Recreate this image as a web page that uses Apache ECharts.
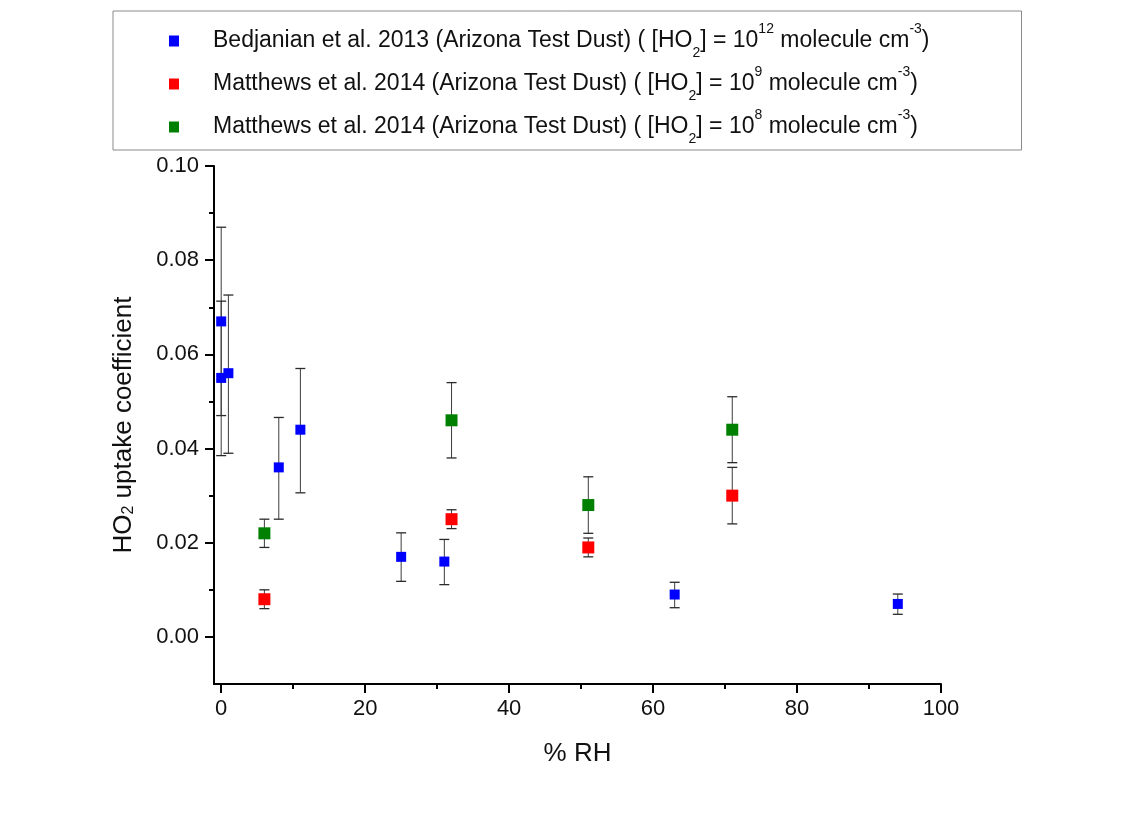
<!DOCTYPE html>
<html>
<head>
<meta charset="utf-8">
<script src="https://cdn.jsdelivr.net/npm/echarts@6/dist/echarts.min.js"></script>
<style>
  html, body { margin: 0; padding: 0; background: #ffffff; }
  #chart { width: 1147px; height: 813px; }
</style>
</head>
<body>
<div id="chart"></div>
<script>
// ---- data ----
const bedRH    = [0, 0, 1, 8, 11, 25, 31, 63, 94];
const bedGamma = [0.067, 0.055, 0.056, 0.036, 0.044, 0.017, 0.016, 0.009, 0.007];
const bedLow   = [0.047, 0.0385, 0.039, 0.025, 0.0306, 0.0118, 0.0111, 0.0062, 0.0048];
const bedHigh  = [0.087, 0.0713, 0.0726, 0.0466, 0.057, 0.0221, 0.0207, 0.0116, 0.0091];

const mat9RH    = [6, 32, 51, 71];
const mat9Gamma = [0.008, 0.025, 0.019, 0.030];
const mat9Low   = [0.006, 0.023, 0.017, 0.024];
const mat9High  = [0.010, 0.027, 0.021, 0.036];

const mat8RH    = [6, 32, 51, 71];
const mat8Gamma = [0.022, 0.046, 0.028, 0.044];
const mat8Low   = [0.019, 0.038, 0.022, 0.037];
const mat8High  = [0.025, 0.054, 0.034, 0.051];

const seriesNames = [
  'Bedjanian et al. 2013 (Arizona Test Dust) ( [HO2] = 10^12 molecule cm^-3)',
  'Matthews et al. 2014 (Arizona Test Dust) ( [HO2] = 10^9 molecule cm^-3)',
  'Matthews et al. 2014 (Arizona Test Dust) ( [HO2] = 10^8 molecule cm^-3)'
];
const legendRich = [
  '{sp| }Bedjanian et al. 2013 (Arizona Test Dust) ( [HO{sub|2}] = 10{sup|12} molecule cm{sup|-3})',
  '{sp| }Matthews et al. 2014 (Arizona Test Dust) ( [HO{sub|2}] = 10{sup|9} molecule cm{sup|-3})',
  '{sp| }Matthews et al. 2014 (Arizona Test Dust) ( [HO{sub|2}] = 10{sup|8} molecule cm{sup|-3})'
];
const xMajorTicks = [0, 20, 40, 60, 80, 100];
const xMinorTicks = [10, 30, 50, 70, 90];
const yMajorTicks = [0, 0.02, 0.04, 0.06, 0.08, 0.10];
const yMinorTicks = [0.01, 0.03, 0.05, 0.07, 0.09];

// ---- helpers ----
function pts(xs, ys) { return xs.map((x, i) => [x, ys[i]]); }
function errs(xs, lo, hi) { return xs.map((x, i) => [x, lo[i], hi[i]]); }

const FONT = '"Liberation Sans", Arial, sans-serif';

function errorSeries(name, data) {
  return {
    type: 'custom',
    name: name,
    xAxisIndex: 0, yAxisIndex: 0,
    z: 1,
    silent: true,
    data: data,
    renderItem: function (params, api) {
      const x = api.value(0);
      const lo = api.coord([x, api.value(1)]);
      const hi = api.coord([x, api.value(2)]);
      const hw = 5;
      const st = { stroke: '#3c3c3c', lineWidth: 1 };
      return {
        type: 'group',
        children: [
          { type: 'line', shape: { x1: lo[0], y1: lo[1], x2: hi[0], y2: hi[1] }, style: st },
          { type: 'line', shape: { x1: hi[0] - hw, y1: hi[1], x2: hi[0] + hw, y2: hi[1] }, style: { stroke: '#2a2a2a', lineWidth: 1.3 } },
          { type: 'line', shape: { x1: lo[0] - hw, y1: lo[1], x2: lo[0] + hw, y2: lo[1] }, style: { stroke: '#2a2a2a', lineWidth: 1.3 } }
        ]
      };
    }
  };
}

const chart = echarts.init(document.getElementById('chart'), null, { renderer: 'canvas' });

const option = {
  backgroundColor: '#ffffff',
  animation: false,
  textStyle: { fontFamily: FONT },
  grid: { left: 214, right: 206, top: 166, bottom: 129, containLabel: false },
  legend: {
    show: true,
    orient: 'vertical',
    left: 113,
    top: 11,
    padding: [11, 92, 4, 56],
    itemGap: 5,
    itemWidth: 10,
    itemHeight: 11,
    icon: 'rect',
    borderColor: '#8a8a8a',
    borderWidth: 1,
    backgroundColor: '#ffffff',
    data: seriesNames,
    formatter: function (name) { return legendRich[seriesNames.indexOf(name)]; },
    textStyle: {
      fontFamily: FONT,
      fontSize: 23,
      color: '#111',
      lineHeight: 38,
      rich: {
        sp: { width: 29, fontSize: 23, lineHeight: 38 },
        sub: { fontSize: 14, lineHeight: 13, verticalAlign: 'bottom', color: '#111', fontFamily: FONT },
        sup: { fontSize: 14, lineHeight: 15, verticalAlign: 'top', color: '#111', fontFamily: FONT }
      }
    }
  },
  xAxis: [
    {
      type: 'value',
      min: -1, max: 100,
      name: '% RH',
      nameLocation: 'middle',
      nameGap: 57,
      nameTextStyle: { fontFamily: FONT, fontSize: 26, color: '#111' },
      axisLine: { show: true, onZero: false, lineStyle: { color: '#000', width: 2 } },
      axisTick: { show: true, inside: false, length: 9, customValues: xMajorTicks, lineStyle: { color: '#000', width: 2 } },
      axisLabel: { show: true, customValues: xMajorTicks, margin: 14, fontFamily: FONT, fontSize: 22, color: '#111',
                   formatter: function (v) { return String(Math.round(v)); } },
      splitLine: { show: false }
    },
    {
      type: 'value',
      min: -1, max: 100,
      position: 'bottom',
      axisLine: { show: false, onZero: false },
      axisTick: { show: true, inside: false, length: 5, customValues: xMinorTicks, lineStyle: { color: '#000', width: 2 } },
      axisLabel: { show: false },
      splitLine: { show: false }
    }
  ],
  yAxis: [
    {
      type: 'value',
      min: -0.01, max: 0.10,
      name: 'HO{sub|2} uptake coefficient',
      nameLocation: 'middle',
      nameGap: 77,
      nameRotate: 90,
      nameTextStyle: {
        fontFamily: FONT, fontSize: 26, color: '#111',
        rich: {
          sub: { fontSize: 16, verticalAlign: 'bottom', lineHeight: 14, fontFamily: FONT, color: '#111' }
        }
      },
      axisLine: { show: true, onZero: false, lineStyle: { color: '#000', width: 2 } },
      axisTick: { show: true, inside: false, length: 9, customValues: yMajorTicks, lineStyle: { color: '#000', width: 2 } },
      axisLabel: { show: true, customValues: yMajorTicks, margin: 15, fontFamily: FONT, fontSize: 22, color: '#111',
                   formatter: function (v) { return v.toFixed(2); } },
      splitLine: { show: false }
    },
    {
      type: 'value',
      min: -0.01, max: 0.10,
      position: 'left',
      axisLine: { show: false, onZero: false },
      axisTick: { show: true, inside: false, length: 5, customValues: yMinorTicks, lineStyle: { color: '#000', width: 2 } },
      axisLabel: { show: false },
      splitLine: { show: false }
    }
  ],
  series: [
    errorSeries('err-bed', errs(bedRH, bedLow, bedHigh)),
    errorSeries('err-mat9', errs(mat9RH, mat9Low, mat9High)),
    errorSeries('err-mat8', errs(mat8RH, mat8Low, mat8High)),
    {
      type: 'scatter', name: seriesNames[0], z: 3,
      symbol: 'rect', symbolSize: 10,
      itemStyle: { color: '#0000ff', opacity: 1 },
      data: pts(bedRH, bedGamma)
    },
    {
      type: 'scatter', name: seriesNames[1], z: 3,
      symbol: 'rect', symbolSize: 12,
      itemStyle: { color: '#ff0000', opacity: 1 },
      data: pts(mat9RH, mat9Gamma)
    },
    {
      type: 'scatter', name: seriesNames[2], z: 3,
      symbol: 'rect', symbolSize: 12,
      itemStyle: { color: '#008000', opacity: 1 },
      data: pts(mat8RH, mat8Gamma)
    }
  ]
};
chart.setOption(option);
</script>
</body>
</html>
